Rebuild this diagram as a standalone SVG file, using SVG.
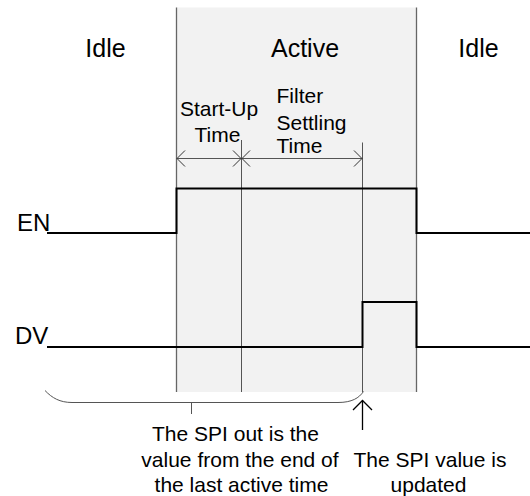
<svg xmlns="http://www.w3.org/2000/svg" width="530" height="496" viewBox="0 0 530 496">
<style>
text{font-family:"Liberation Sans",Arial,sans-serif;fill:#000}
.h{font-size:25px;text-anchor:middle}
.sig{font-size:24px}
.l{font-size:21px}
.c{text-anchor:middle}
.thin{stroke:#555;stroke-width:1;fill:none}
.edge{stroke:#666;stroke-width:1.3;fill:none}
.wave{stroke:#000;stroke-width:2;fill:none}
</style>
<defs>
<marker id="ah" markerWidth="10" markerHeight="18" refX="9" refY="9" orient="auto-start-reverse" markerUnits="userSpaceOnUse">
<path d="M1,1 L9,9 L1,17" fill="none" stroke="#333" stroke-width="1"/>
</marker>
<marker id="up" markerWidth="12" markerHeight="22" refX="10.5" refY="11" orient="auto" markerUnits="userSpaceOnUse">
<path d="M1,1.5 L10.5,11 L1,20.5" fill="none" stroke="#000" stroke-width="1.3"/>
</marker>
</defs>
<g id="active-region">
<rect x="176.5" y="7.5" width="240" height="384.5" fill="#f2f2f2"/>
<line class="edge" x1="176.5" y1="7.5" x2="176.5" y2="392"/>
<line class="edge" x1="416.5" y1="7.5" x2="416.5" y2="392"/>
</g>
<g id="labels">
<text class="h" x="105.5" y="56.5">Idle</text>
<text class="h" x="305" y="56.5">Active</text>
<text class="h" x="478.5" y="56.5">Idle</text>
<text class="sig" x="17" y="230.5">EN</text>
<text class="sig" x="15" y="344">DV</text>
<text class="l c" x="219" y="116">Start-Up</text>
<text class="l c" x="217.5" y="141.5">Time</text>
<text class="l" x="276.5" y="103">Filter</text>
<text class="l" x="276.5" y="129.5">Settling</text>
<text class="l" x="276.5" y="153">Time</text>
<text class="l c" x="235.5" y="440.5">The SPI out is the</text>
<text class="l c" x="240" y="466.5">value from the end of</text>
<text class="l c" x="241.5" y="491.5">the last active time</text>
<text class="l c" x="430" y="466.5">The SPI value is</text>
<text class="l c" x="428.5" y="491.5">updated</text>
</g>
<g id="connectors">
<line class="thin" x1="241.5" y1="140" x2="241.5" y2="392"/>
<line class="thin" x1="362.5" y1="142.5" x2="362.5" y2="392"/>
<line class="thin" x1="177" y1="158.5" x2="241" y2="158.5" marker-start="url(#ah)" marker-end="url(#ah)"/>
<line class="thin" x1="242" y1="158.5" x2="362" y2="158.5" marker-start="url(#ah)" marker-end="url(#ah)"/>
<path class="wave" d="M47,233 H176.5 V188.5 H416.5 V233 H530"/>
<path class="wave" d="M47,347 H362.5 V302 H416.5 V347 H530"/>
<path class="thin" d="M45,390.5 C52,398 60,402.5 72,402.5 L338,402.5 C352,402.5 359,398 363.5,391.5"/>
<line class="thin" x1="191.5" y1="402" x2="191.5" y2="414"/>
<line x1="362.5" y1="430" x2="362.5" y2="400.5" stroke="#000" stroke-width="1.3" marker-end="url(#up)"/>
</g>
</svg>
